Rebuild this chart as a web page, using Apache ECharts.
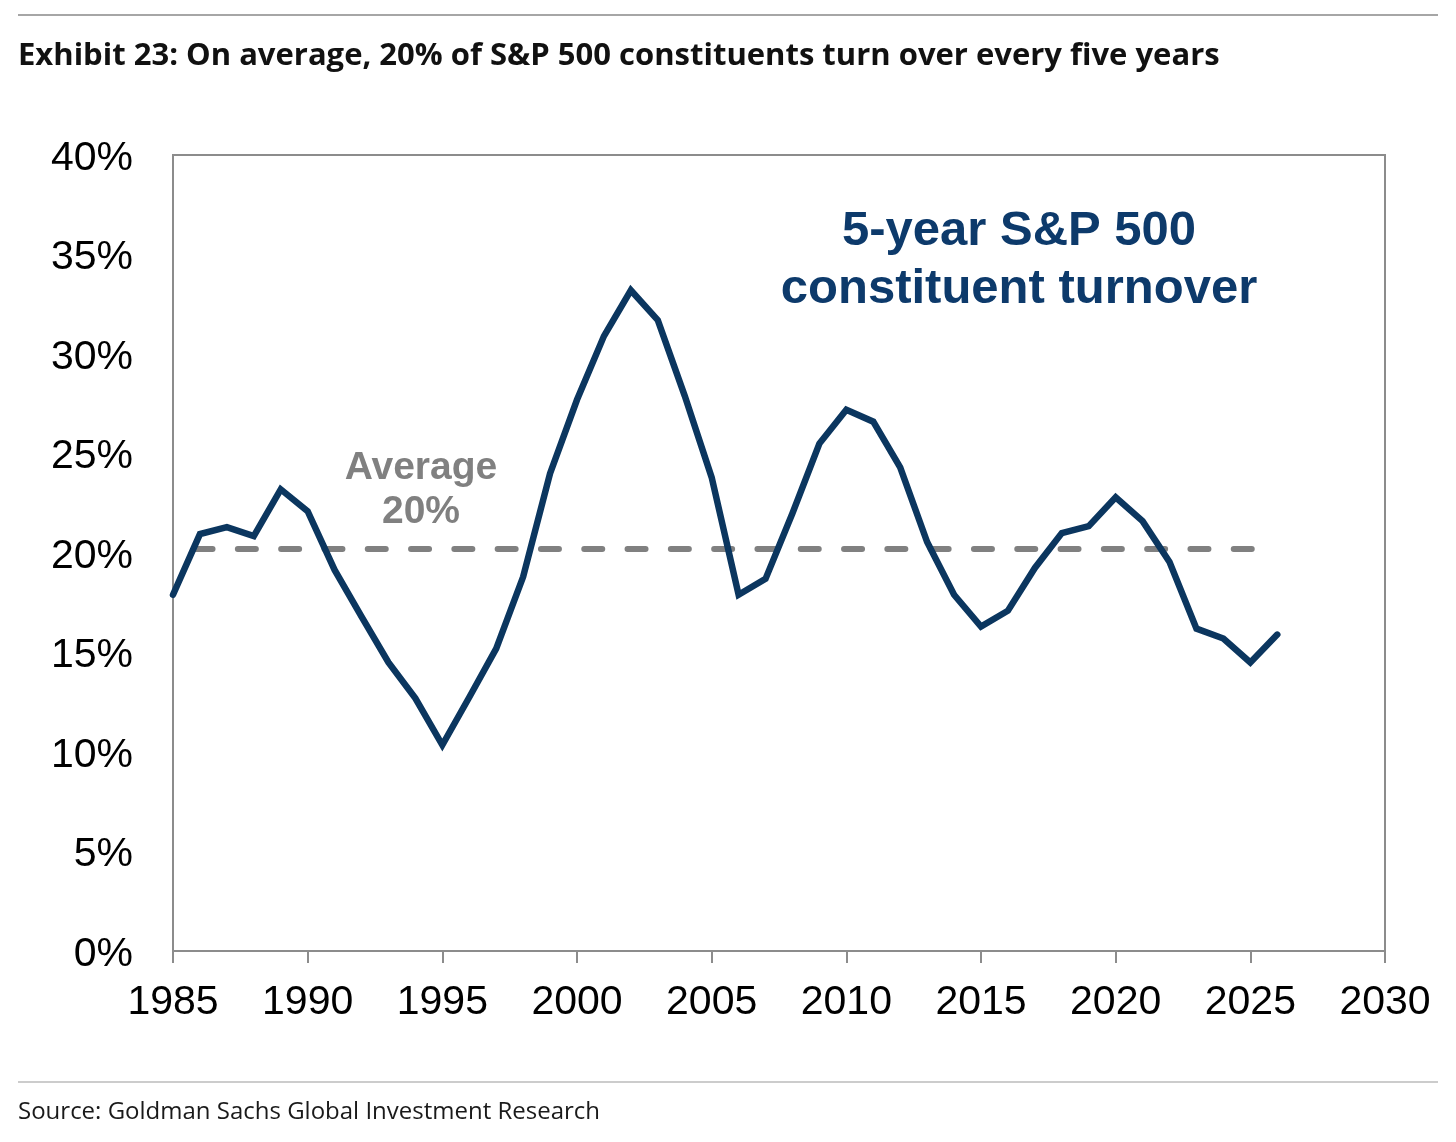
<!DOCTYPE html>
<html>
<head>
<meta charset="utf-8">
<script src="https://cdn.jsdelivr.net/npm/echarts@6/dist/echarts.min.js"></script>
<style>
  html, body { margin: 0; padding: 0; background: #fff; }
  #chart { width: 1456px; height: 1142px; }
</style>
</head>
<body>
<div id="chart"></div>
<script>
const years = [1985,1986,1987,1988,1989,1990,1991,1992,1993,1994,1995,1996,1997,1998,1999,2000,2001,2002,2003,2004,2005,2006,2007,2008,2009,2010,2011,2012,2013,2014,2015,2016,2017,2018,2019,2020,2021,2022,2023,2024,2025,2026];
const turnover = [17.9,20.95,21.3,20.85,23.2,22.1,19.15,16.8,14.5,12.7,10.35,12.75,15.2,18.8,24.0,27.7,30.9,33.2,31.7,27.9,23.8,17.9,18.7,22.0,25.5,27.2,26.6,24.3,20.55,17.9,16.3,17.1,19.25,21.0,21.35,22.8,21.6,19.55,16.2,15.7,14.5,15.9];
const averageValue = 20.2;
const averageYears = [1985.8, 2025.15];
const yTicks = [0,5,10,15,20,25,30,35,40];
const xTicks = [1985,1990,1995,2000,2005,2010,2015,2020,2025,2030];

const titleText = 'Exhibit 23: On average, 20% of S&P 500 constituents turn over every five years';
const sourceText = 'Source: Goldman Sachs Global Investment Research';
const seriesLabel = ['5-year S&P 500', 'constituent turnover'];
const avgLabel = ['Average', '20%'];

const chart = echarts.init(document.getElementById('chart'), null, { renderer: 'canvas' });

const axisFont = '"Liberation Sans", Arial, sans-serif';
const option = {
  animation: false,
  backgroundColor: '#ffffff',
  grid: {
    left: 173, right: 71, top: 155, bottom: 191,
    show: true, borderColor: '#8c8c8c', borderWidth: 2, backgroundColor: 'transparent'
  },
  xAxis: {
    type: 'value', min: xTicks[0], max: xTicks[xTicks.length - 1], interval: 5,
    axisLine: { show: true, lineStyle: { color: '#8c8c8c', width: 2 } },
    axisTick: { show: true, inside: false, length: 12, lineStyle: { color: '#8c8c8c', width: 2 } },
    splitLine: { show: false },
    axisLabel: { color: '#000', fontSize: 41, fontFamily: axisFont, margin: 31, formatter: v => String(v) }
  },
  yAxis: {
    type: 'value', min: yTicks[0], max: yTicks[yTicks.length - 1], interval: 5,
    axisLine: { show: true, lineStyle: { color: '#8c8c8c', width: 2 } },
    axisTick: { show: false },
    splitLine: { show: false },
    axisLabel: {
      margin: 40,
      formatter: v => '{a|' + v + '%}',
      rich: { a: { color: '#000', fontSize: 41, fontFamily: axisFont, padding: [7, 0, 0, 0] } }
    }
  },
  series: [
    {
      type: 'line',
      data: averageYears.map(y => [y, averageValue]),
      symbol: 'none',
      lineStyle: { color: '#808080', width: 6, type: [18, 25.3], cap: 'round' },
      z: 2
    },
    {
      type: 'line',
      data: years.map((y, i) => [y, turnover[i]]),
      symbol: 'none',
      lineStyle: { color: '#0b365f', width: 6.5, cap: 'round', join: 'miter' },
      z: 3
    }
  ],
  graphic: [
    { type: 'rect', shape: { x: 18, y: 14, width: 1420, height: 2 }, style: { fill: '#a6a6a6' } },
    { type: 'text', left: 18, top: 41, style: { text: titleText, font: 'bold 31px "Open Sans", sans-serif', fill: '#111' } },
    { type: 'rect', shape: { x: 18, y: 1081, width: 1420, height: 2 }, style: { fill: '#cccccc' } },
    { type: 'text', left: 18, top: 1100, style: { text: sourceText, font: '24px "Open Sans", sans-serif', fill: '#1a1a1a' } },
    { type: 'text', x: 1019, y: 231, style: { text: seriesLabel[0], font: 'bold 49px "Liberation Sans", Arial, sans-serif', fill: '#0d3a6b', textAlign: 'center', textVerticalAlign: 'middle' } },
    { type: 'text', x: 1019, y: 289, style: { text: seriesLabel[1], font: 'bold 49px "Liberation Sans", Arial, sans-serif', fill: '#0d3a6b', textAlign: 'center', textVerticalAlign: 'middle' } },
    { type: 'text', x: 421, y: 468, style: { text: avgLabel[0], font: 'bold 39px "Liberation Sans", Arial, sans-serif', fill: '#808080', textAlign: 'center', textVerticalAlign: 'middle' } },
    { type: 'text', x: 421, y: 512, style: { text: avgLabel[1], font: 'bold 39px "Liberation Sans", Arial, sans-serif', fill: '#808080', textAlign: 'center', textVerticalAlign: 'middle' } }
  ]
};
chart.setOption(option);
</script>
</body>
</html>
